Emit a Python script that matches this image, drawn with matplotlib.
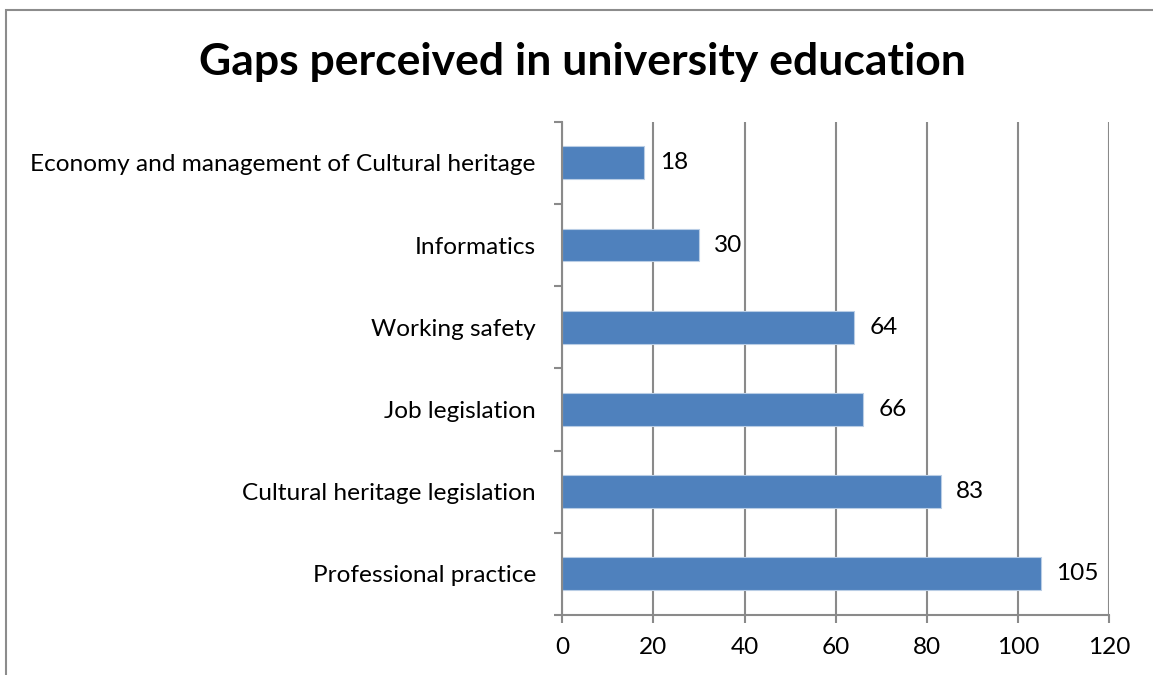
import matplotlib
matplotlib.use("Agg")
import matplotlib.pyplot as plt
from matplotlib.patches import Rectangle
import numpy as np

categories = [
    "Professional practice",
    "Cultural heritage legislation",
    "Job legislation",
    "Working safety",
    "Informatics",
    "Economy and management of Cultural heritage",
]
values = [105, 83, 66, 64, 30, 18]
x_ticks = [0, 20, 40, 60, 80, 100, 120]

plt.rcParams["font.family"] = ["Lato", "DejaVu Sans"]

W, H = 1153, 675
fig = plt.figure(figsize=(W / 100, H / 100), dpi=100)
fig.patch.set_facecolor("white")

# outer chart frame
fig.patches.append(Rectangle((6 / W, -0.05), 1.2, (H - 10) / H + 0.05,
                             transform=fig.transFigure, fill=False,
                             edgecolor="#8c8c8c", linewidth=1.5))

ax = fig.add_axes([562.3 / W, 60 / H, 547 / W, 493.3 / H])
grid_c = "#8a8a8a"
fs = 17.6

y = np.arange(len(categories))
ax.barh(y, values, height=0.4, color="#4f81bd", edgecolor="#b9cde5",
        linewidth=0.8, zorder=3)

for yi, v in zip(y, values):
    ax.annotate(str(v), (v, yi), xytext=(11, 0), textcoords="offset points",
                ha="left", va="center", fontsize=fs, color="black")

ax.set_xlim(0, 120)
ax.set_ylim(-0.5, len(categories) - 0.5)
ax.set_xticks(x_ticks)
ax.set_xticklabels([str(t) for t in x_ticks])
ax.set_yticks(y)
ax.set_yticklabels(categories)
ax.set_yticks(np.arange(-0.5, len(categories)), minor=True)

ax.tick_params(axis="y", which="major", length=0, pad=19, labelsize=fs)
ax.tick_params(axis="y", which="minor", length=6, width=1.5, color=grid_c,
               direction="out")
ax.tick_params(axis="x", length=6, width=1.5, color=grid_c, direction="out",
               pad=10, labelsize=fs)

ax.grid(axis="x", color=grid_c, linewidth=1.5, zorder=0)
ax.set_axisbelow(True)
for s in ("top", "right"):
    ax.spines[s].set_visible(False)
for s in ("left", "bottom"):
    ax.spines[s].set_color(grid_c)
    ax.spines[s].set_linewidth(1.5)
    ax.spines[s].set_zorder(4)

fig.text(582 / W, 1 - 62 / H, "Gaps perceived in university education",
         ha="center", va="center", fontsize=32, fontweight="bold")

fig.savefig("out.png", dpi=100)
